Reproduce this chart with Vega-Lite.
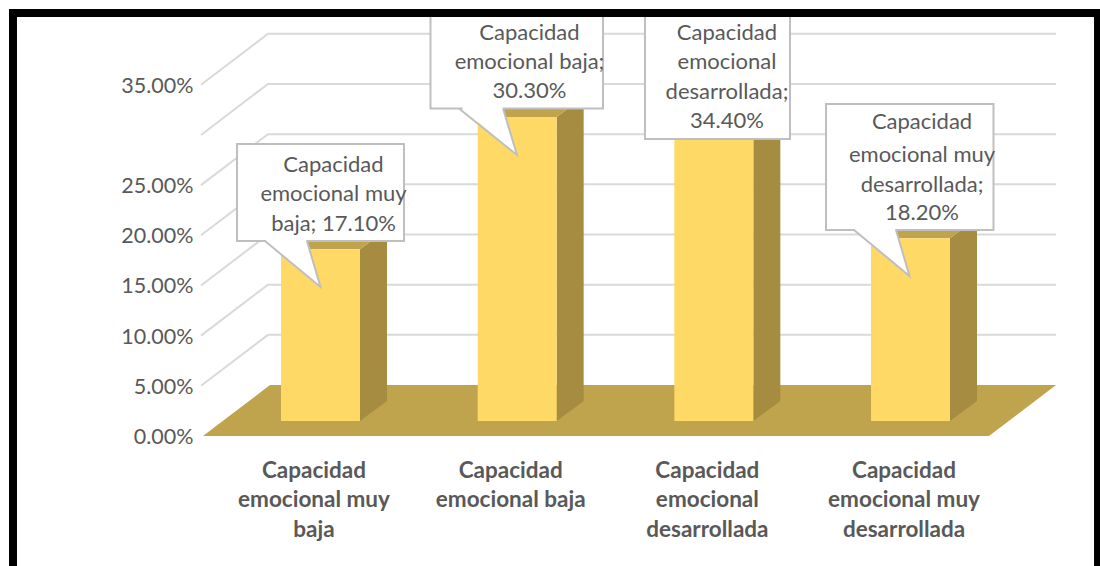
{
"$schema":"https://vega.github.io/schema/vega-lite/v6.json",
"width":1100,"height":566,"padding":0,"autosize":{"type":"none"},"background":"white",
"config":{"view":{"stroke":null},"font":"Lato"},
"datasets":{
"bars":[
{"idx":0,"value":0.171,"label":"Capacidad|emocional muy|baja"},
{"idx":1,"value":0.303,"label":"Capacidad|emocional baja"},
{"idx":2,"value":0.344,"label":"Capacidad|emocional|desarrollada"},
{"idx":3,"value":0.182,"label":"Capacidad|emocional muy|desarrollada"}],
"levels":[{"level":0.05},{"level":0.1},{"level":0.15},{"level":0.2},{"level":0.25},{"level":0.3},{"level":0.35}],
"floor":[{"x":-0.5975,"y":0,"y2":0},{"x":-0.2568,"y":0,"y2":0.0508},{"x":3.3989,"y":0,"y2":0.0508},{"x":3.7403,"y":0.0508,"y2":0.0508}],
"boxes":[
{"x":-0.4246,"x2":0.4246,"y":0.1943,"y2":0.291},
{"x":0.5593,"x2":1.4364,"y":0.3264,"y2":0.4215},
{"x":1.65,"x2":2.3873,"y":0.296,"y2":0.4215},
{"x":2.5703,"x2":3.422,"y":0.2053,"y2":0.3308}],
"pointerFill":[
{"p":1,"x":-0.2771,"y":0.1935,"y2":0.1958},{"p":1,"x":-0.0737,"y":0.1604,"y2":0.1958},{"p":1,"x":0,"y":0.1485,"y2":0.1485},
{"p":2,"x":0.722,"y":0.3256,"y2":0.3279},{"p":2,"x":0.9254,"y":0.2925,"y2":0.3279},{"p":2,"x":0.9991,"y":0.28,"y2":0.28},
{"p":4,"x":2.7178,"y":0.2045,"y2":0.2068},{"p":4,"x":2.9212,"y":0.1714,"y2":0.2068},{"p":4,"x":2.9949,"y":0.1594,"y2":0.1594}],
"pointerLine":[
{"p":1,"o":0,"x":-0.2822,"y":0.1943},{"p":1,"o":1,"x":0,"y":0.1485},{"p":1,"o":2,"x":-0.0686,"y":0.1943},
{"p":2,"o":0,"x":0.7042,"y":0.3264},{"p":2,"o":1,"x":0.9991,"y":0.28},{"p":2,"o":2,"x":0.928,"y":0.3264},
{"p":4,"o":0,"x":2.7127,"y":0.2053},{"p":4,"o":1,"x":2.9949,"y":0.1594},{"p":4,"o":2,"x":2.9263,"y":0.2053}],
"calloutText":[
{"x":0.0661,"y":0.2701,"t":"Capacidad"},{"x":0.0661,"y":0.2412,"t":"emocional muy"},{"x":0.0661,"y":0.2113,"t":"baja; 17.10%"},
{"x":1.0627,"y":0.4016,"t":"Capacidad"},{"x":1.0627,"y":0.3727,"t":"emocional baja;"},{"x":1.0627,"y":0.3438,"t":"30.30%"},
{"x":2.0669,"y":0.4016,"t":"Capacidad"},{"x":2.0669,"y":0.3727,"t":"emocional"},{"x":2.0669,"y":0.3428,"t":"desarrollada;"},{"x":2.0669,"y":0.3139,"t":"34.40%"},
{"x":3.0585,"y":0.3129,"t":"Capacidad"},{"x":3.0585,"y":0.28,"t":"emocional muy"},{"x":3.0585,"y":0.2501,"t":"desarrollada;"},{"x":3.0585,"y":0.2222,"t":"18.20%"}],
"frame":[
{"x":-1.5838,"x2":3.9635,"y":0.4255,"y2":0.4175},
{"x":-1.5838,"x2":-1.5432,"y":0.4255,"y2":-0.12955},
{"x":3.9331,"x2":3.9635,"y":0.4255,"y2":-0.12955}]
},
"encoding":{
"x":{"field":"x","type":"quantitative","scale":{"domain":[-1.6296,3.9635],"nice":false,"zero":false},"axis":null},
"y":{"field":"y","type":"quantitative","scale":{"domain":[-0.12955,0.43448],"nice":false,"zero":false},
"axis":{"values":[0,0.05,0.1,0.15,0.2,0.25,0.35],"format":".2%","title":null,"grid":false,"domain":false,"ticks":false,"offset":-197,"labelPadding":4,"labelFontSize":21.5,"labelColor":"#595959","labelFont":"Lato","labelOffset":1.5}}
},
"layer":[
{"data":{"name":"levels"},
"transform":[{"calculate":"[0,1,2]","as":"t"},{"flatten":["t"]},
{"calculate":"[-0.6076,-0.2669,3.7403][datum.t]","as":"x"},
{"calculate":"datum.level+[0,0.0508,0.0508][datum.t]","as":"y"}],
"mark":{"type":"line","color":"#d9d9d9","strokeWidth":2},
"encoding":{"detail":{"field":"level"}}},
{"data":{"name":"floor"},"mark":{"type":"area","orient":"vertical","color":"#bfa34d"},"encoding":{"y2":{"field":"y2"}}},
{"data":{"name":"bars"},
"transform":[{"calculate":"[0,1]","as":"t"},{"flatten":["t"]},
{"calculate":"datum.idx+0.2008+datum.t*0.1373","as":"x"},
{"calculate":"0.015+datum.t*0.02","as":"y"},
{"calculate":"datum.value+0.015+datum.t*0.02","as":"y2"}],
"mark":{"type":"area","orient":"vertical","color":"#a58c40"},
"encoding":{"detail":{"field":"idx"},"y2":{"field":"y2"}}},
{"data":{"name":"bars"},
"transform":[{"calculate":"[0,1,2,3]","as":"t"},{"flatten":["t"]},
{"calculate":"datum.idx-0.2008+[0,0.1373,0.4016,0.5389][datum.t]","as":"x"},
{"calculate":"datum.value+0.015+[0,0,0,0.02][datum.t]","as":"y"},
{"calculate":"datum.value+0.015+[0,0.02,0.02,0.02][datum.t]","as":"y2"}],
"mark":{"type":"area","orient":"vertical","color":"#bfa34d"},
"encoding":{"detail":{"field":"idx"},"y2":{"field":"y2"}}},
{"data":{"name":"bars"},
"transform":[{"calculate":"datum.idx-0.2008","as":"x"},{"calculate":"datum.idx+0.2008","as":"x2"},
{"calculate":"datum.value+0.015","as":"y"},{"calculate":"0.015","as":"y2"}],
"mark":{"type":"rect","color":"#ffd966"},
"encoding":{"x2":{"field":"x2"},"y2":{"field":"y2"}}},
{"data":{"name":"bars"},
"transform":[{"calculate":"datum.idx-0.033","as":"x"},{"calculate":"-0.0235","as":"y"}],
"mark":{"type":"text","lineBreak":"|","lineHeight":29.5,"baseline":"top","align":"center","fontWeight":"bold","fontSize":22.5,"color":"#595959","font":"Lato"},
"encoding":{"text":{"field":"label"}}},
{"data":{"name":"boxes"},"mark":{"type":"rect","fill":"white","stroke":"#bfbfbf","strokeWidth":2},
"encoding":{"x2":{"field":"x2"},"y2":{"field":"y2"}}},
{"data":{"name":"pointerFill"},"mark":{"type":"area","orient":"vertical","color":"white"},
"encoding":{"detail":{"field":"p"},"y2":{"field":"y2"}}},
{"data":{"name":"pointerLine"},"mark":{"type":"line","color":"#bfbfbf","strokeWidth":2},
"encoding":{"detail":{"field":"p"},"order":{"field":"o"}}},
{"data":{"name":"calloutText"},"mark":{"type":"text","align":"center","baseline":"middle","fontSize":22,"color":"#595959","font":"Lato"},
"encoding":{"text":{"field":"t"}}},
{"data":{"name":"frame"},"mark":{"type":"rect","color":"black"},
"encoding":{"x2":{"field":"x2"},"y2":{"field":"y2"}}}
]
}
